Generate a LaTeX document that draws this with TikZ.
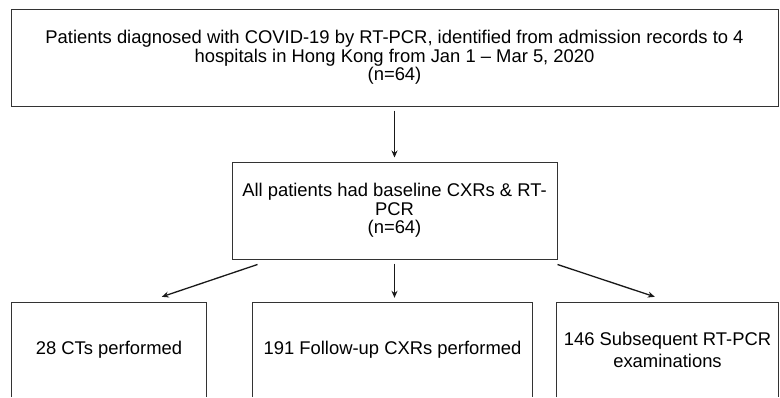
\documentclass[tikz,border=0pt]{standalone}
\usepackage{fontspec}
\setmainfont{Liberation Sans}
\usetikzlibrary{arrows.meta}
\begin{document}
\begin{tikzpicture}[x=1pt,y=-1pt,
  boxstyle/.style={draw=black!80,line width=1pt,inner sep=0pt,align=center,
    font=\fontsize{18.4}{18.4}\selectfont},
  openbox/.style={inner sep=0pt,align=center,font=\fontsize{18.4}{21.5}\selectfont},
  sides/.style={draw=black!80,line width=1pt},
  arr/.style={draw=black!90,line width=1.3pt,-{Stealth[length=7pt,width=6pt]}}]
\useasboundingbox (0,0) rectangle (780,397);
\fill[white] (0,0) rectangle (780,397);

\node[boxstyle,minimum width=767pt,minimum height=97pt] (top) at (394.5,57.5)
  {Patients diagnosed with COVID-19 by RT-PCR, identified from admission records to 4\\
   hospitals in Hong Kong from Jan 1 -- Mar 5, 2020\\ (n=64)};

\node[boxstyle,minimum width=325pt,minimum height=97pt] (mid) at (394.5,210.5)
  {All patients had baseline CXRs \& RT-\\ PCR\\ (n=64)};

\node[openbox,minimum width=194pt,minimum height=94pt] (left) at (109,350) {28 CTs performed};
\node[openbox,minimum width=279pt,minimum height=94pt] (center) at (392.5,350) {191 Follow-up CXRs performed};
\node[openbox,minimum width=221pt,minimum height=94pt] (right) at (667.5,350) {146 Subsequent RT-PCR\\ examinations};

\foreach \n in {left,center,right}
  \draw[sides] (\n.south west) -- (\n.north west) -- (\n.north east) -- (\n.south east);

\draw[arr] ([yshift=-4pt]top.south) -- ([yshift=4pt]mid.north);
\draw[arr] ([xshift=26pt,yshift=-5pt]mid.south west) -- ([xshift=150pt,yshift=6pt]left.north west);
\draw[arr] ([yshift=-4pt]mid.south) -- ([yshift=5pt]mid.south |- center.north);
\draw[arr] ([yshift=-5pt]mid.south east) -- ([xshift=98pt,yshift=6pt]right.north west);
\end{tikzpicture}
\end{document}
